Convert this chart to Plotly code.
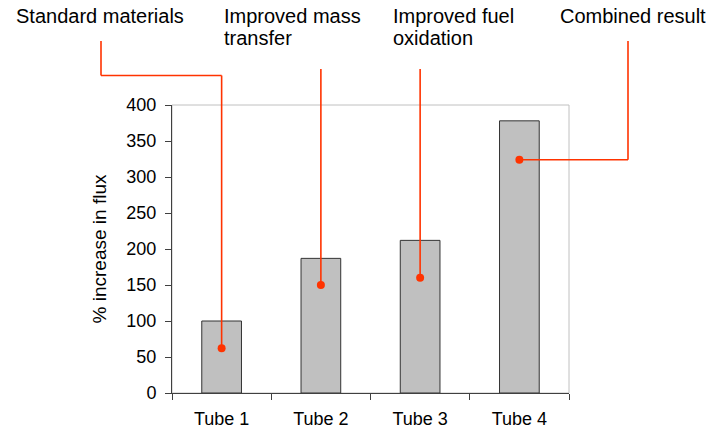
import plotly.graph_objects as go

# ---- data ----
categories = ["Tube 1", "Tube 2", "Tube 3", "Tube 4"]
flux_increase = [100, 187, 212, 378]
callout_values = [62, 150, 160, 324]
callout_lines = [["Standard materials"], ["Improved mass", "transfer"],
                 ["Improved fuel", "oxidation"], ["Combined result"]]

# ---- style / layout ----
W, H = 714, 431
M = dict(l=172, r=145, t=105, b=38)
PW = W - M["l"] - M["r"]
PH = H - M["t"] - M["b"]
RED = "#FF3300"
FONT = "Liberation Sans, Arial, sans-serif"


def px_x(px):
    return (px - M["l"]) / PW


def px_y(py):
    return (H - M["b"] - py) / PH


def cat_paper(i):
    return (i + 0.5) / len(categories)


fig = go.Figure()
fig.add_trace(go.Bar(
    x=categories, y=flux_increase, width=0.4,
    marker=dict(color="#C0C0C0", line=dict(color="#333333", width=1)),
    showlegend=False, hoverinfo="x+y",
))
fig.add_trace(go.Scatter(
    x=categories, y=callout_values, mode="markers",
    marker=dict(color=RED, size=8), cliponaxis=False, showlegend=False,
))

shapes = []
line = dict(color=RED, width=1.6)
# plot border (light grey top/right)
shapes.append(dict(type="rect", xref="paper", yref="paper", x0=0, x1=1, y0=0, y1=1,
                   line=dict(color="#C0C0C0", width=1), layer="below"))
# Callouts 1-3: vertical line from the dot upward
tops = [px_y(75.5), px_y(69), px_y(69)]
for i in range(3):
    shapes.append(dict(type="line", xref="x", yref="y", x0=categories[i], x1=categories[i],
                       y0=callout_values[i], y1=400, line=line, layer="above"))
    shapes.append(dict(type="line", xref="x", yref="paper", x0=categories[i], x1=categories[i],
                       y0=1, y1=tops[i], line=line, layer="above"))
# Callout 1 elbow to the left
shapes.append(dict(type="line", xref="paper", yref="paper", x0=px_x(101), x1=cat_paper(0),
                   y0=px_y(75.5), y1=px_y(75.5), line=line, layer="above"))
shapes.append(dict(type="line", xref="paper", yref="paper", x0=px_x(101), x1=px_x(101),
                   y0=px_y(75.5), y1=px_y(41), line=line, layer="above"))
# Callout 4: horizontal to the right then up
shapes.append(dict(type="line", xref="paper", yref="y", x0=cat_paper(3), x1=px_x(628),
                   y0=callout_values[3], y1=callout_values[3], line=line, layer="above"))
shapes.append(dict(type="line", xref="paper", yref="y", x0=px_x(628), x1=px_x(628),
                   y0=callout_values[3], y1=400, line=line, layer="above"))
shapes.append(dict(type="line", xref="paper", yref="paper", x0=px_x(628), x1=px_x(628),
                   y0=1, y1=px_y(41), line=line, layer="above"))

label_x = [14, 222, 391, 558]
line_tops = [3, 25.5]
annotations = []
for lx, lines in zip(label_x, callout_lines):
    for k, txt in enumerate(lines):
        annotations.append(dict(
            text=txt, xref="paper", yref="paper", x=px_x(lx), y=px_y(line_tops[k]),
            xanchor="left", yanchor="top", align="left", showarrow=False,
            font=dict(family=FONT, size=20, color="#000000"),
        ))

fig.update_layout(
    width=W, height=H, margin=M,
    paper_bgcolor="white", plot_bgcolor="white",
    font=dict(family=FONT, size=18, color="#000000"),
    shapes=shapes, annotations=annotations,
    xaxis=dict(type="category", tickson="boundaries", ticks="outside", ticklen=6,
               tickcolor="#404040", showline=True, linecolor="#404040", linewidth=1,
               showgrid=False, zeroline=False, tickfont=dict(size=18),
               ticklabelstandoff=9, automargin=False),
    yaxis=dict(range=[0, 400], dtick=50, ticks="outside", ticklen=6,
               tickcolor="#404040", showline=True, linecolor="#404040", linewidth=1,
               showgrid=False, zeroline=False, tickfont=dict(size=18),
               ticklabelstandoff=5, automargin=False,
               title=dict(text="% increase in flux", font=dict(size=19), standoff=14)),
)

fig.write_html("out.html")
